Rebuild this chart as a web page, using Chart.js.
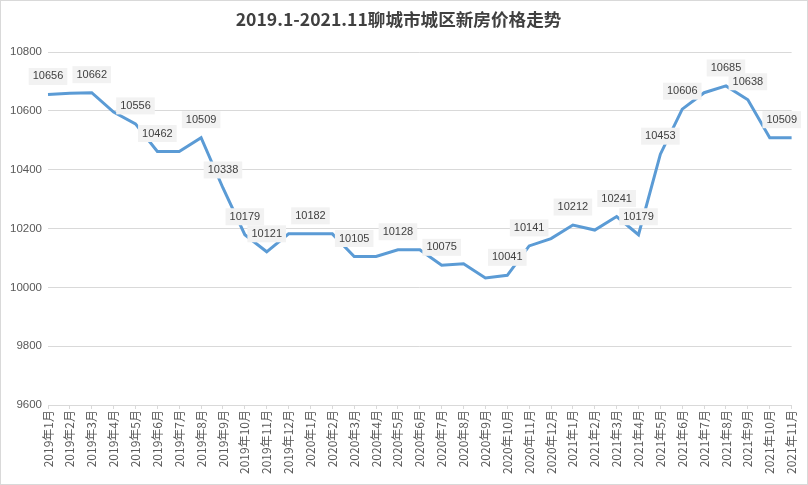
<!DOCTYPE html>
<html>
<head>
<meta charset="utf-8">
<script src="https://cdn.jsdelivr.net/npm/chart.js@4.4.1/dist/chart.umd.min.js"></script>
<style>
  html, body { margin: 0; padding: 0; background: #fff; }
  #wrap { position: relative; width: 806px; height: 483px; border: 1px solid #d9d9d9; }
  canvas { display: block; }
</style>
</head>
<body>
<div id="wrap"><canvas id="chart" width="806" height="483"></canvas></div>
<script>
const months = [
  '2019年1月', '2019年2月', '2019年3月', '2019年4月', '2019年5月', '2019年6月',
  '2019年7月', '2019年8月', '2019年9月', '2019年10月', '2019年11月', '2019年12月',
  '2020年1月', '2020年2月', '2020年3月', '2020年4月', '2020年5月', '2020年6月',
  '2020年7月', '2020年8月', '2020年9月', '2020年10月', '2020年11月', '2020年12月',
  '2021年1月', '2021年2月', '2021年3月', '2021年4月', '2021年5月', '2021年6月',
  '2021年7月', '2021年8月', '2021年9月', '2021年10月', '2021年11月'
]
const prices = [
  10656, 10660, 10662, 10596, 10556, 10462,
  10462, 10509, 10338, 10179, 10121, 10182,
  10182, 10182, 10105, 10105, 10128, 10128,
  10075, 10080, 10032, 10041, 10141, 10166,
  10212, 10195, 10241, 10179, 10453, 10606,
  10662, 10685, 10638, 10509, 10509
]
// which points carry a value label in the original
const labelled = [0, 2, 4, 5, 7, 8, 9, 10, 12, 14, 16, 18, 21, 22, 24, 26, 27, 28, 29, 31, 32, 34]
const yTicks = [9600, 9800, 10000, 10200, 10400, 10600, 10800]

const pointLabels = {
  id: 'pointLabels',
  afterDatasetsDraw(chart) {
    const { ctx } = chart
    const meta = chart.getDatasetMeta(0)
    ctx.save()
    ctx.font = '11px "Liberation Sans", Arial, sans-serif'
    ctx.textAlign = 'center'
    ctx.textBaseline = 'middle'
    labelled.forEach(i => {
      const pt = meta.data[i]
      const text = String(prices[i])
      const w = ctx.measureText(text).width + 8
      const h = 17
      // keep the box inside the canvas
      const cx = Math.min(pt.x, chart.width - 6 - w / 2)
      const cy = pt.y - 18
      ctx.fillStyle = '#f2f2f2'
      ctx.fillRect(cx - w / 2, cy - h / 2, w, h)
      ctx.fillStyle = '#404040'
      ctx.fillText(text, cx, cy)
    })
    ctx.restore()
  }
}

new Chart(document.getElementById('chart'), {
  type: 'line',
  data: {
    labels: months,
    datasets: [{
      data: prices,
      borderColor: '#5b9bd5',
      borderWidth: 3,
      pointRadius: 0,
      tension: 0,
      fill: false
    }]
  },
  options: {
    responsive: false,
    animation: false,
    devicePixelRatio: 1,
    layout: { padding: { left: 3, right: 14, bottom: 5 } },
    plugins: {
      legend: { display: false },
      tooltip: { enabled: false },
      title: {
        display: true,
        text: '2019.1-2021.11聊城市城区新房价格走势',
        color: '#404040',
        font: { size: 17.6, weight: 'bold', family: '"Noto Sans CJK SC", sans-serif' },
        padding: { top: 8, bottom: 22 }
      }
    },
    scales: {
      x: {
        offset: false,
        grid: { drawOnChartArea: false, color: '#d9d9d9', tickLength: 4 },
        border: { color: '#d9d9d9' },
        ticks: {
          autoSkip: false,
          maxRotation: 90,
          minRotation: 90,
          color: '#595959',
          padding: 1,
          font: { size: 12, family: '"Noto Sans CJK SC", sans-serif' }
        },
        afterFit(scale) { scale.height = 74 }
      },
      y: {
        min: 9600,
        max: 10800,
        afterBuildTicks(scale) { scale.ticks = yTicks.map(v => ({ value: v })) },
        grid: { color: '#d9d9d9', drawTicks: false },
        border: { display: false },
        ticks: {
          color: '#595959',
          padding: 6,
          font: { size: 11.5, family: '"Liberation Sans", Arial, sans-serif' },
          callback: v => String(v)
        },
        afterFit(scale) { scale.width = 44 }
      }
    }
  },
  plugins: [pointLabels]
})
</script>
</body>
</html>
